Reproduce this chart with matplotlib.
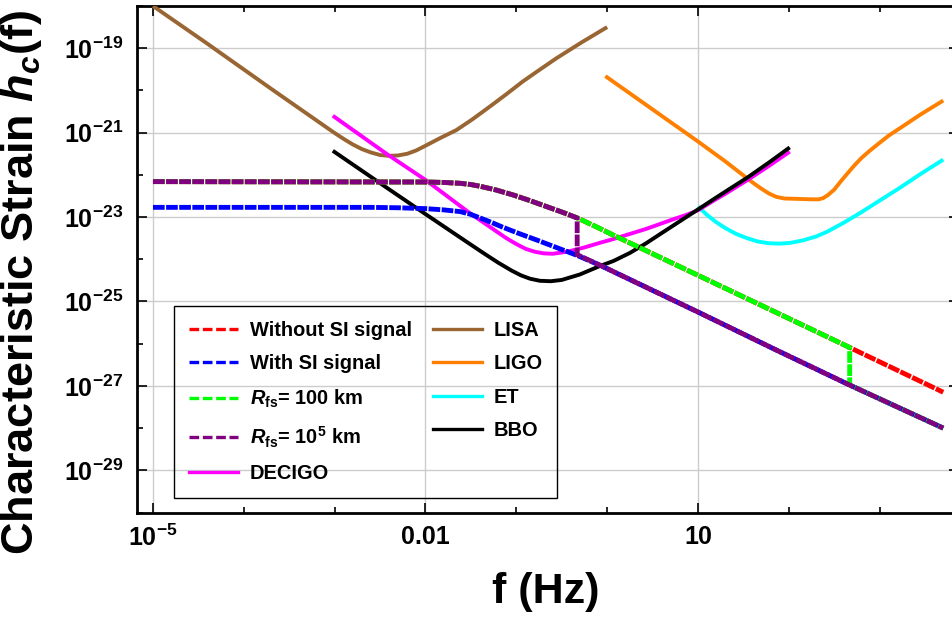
import numpy as np
import matplotlib
matplotlib.use("Agg")
import matplotlib.pyplot as plt
from matplotlib.lines import Line2D

plt.rcParams['font.family'] = ['Liberation Sans', 'DejaVu Sans']
plt.rcParams['font.weight'] = 'bold'
plt.rcParams['mathtext.fontset'] = 'custom'
plt.rcParams['mathtext.rm'] = 'Liberation Sans:bold'
plt.rcParams['mathtext.it'] = 'Liberation Sans:italic:bold'
plt.rcParams['mathtext.bf'] = 'Liberation Sans:bold'
plt.rcParams['mathtext.sf'] = 'Liberation Sans:bold'

# ---------------- data (log10 f [Hz], log10 h_c) ----------------
lisa_logf = [-5.0, -4.41, -3.68, -3.02, -2.90, -2.80, -2.70, -2.60, -2.50, -2.40, -2.30, -2.20, -2.10,
             -2.0, -1.83, -1.66, -1.48, -1.29, -1.11, -0.93, -0.75, -0.56, -0.28, 0.0]
lisa_logh = [-18.0, -18.88, -19.99, -20.98, -21.15, -21.28, -21.39, -21.47, -21.53, -21.55, -21.54, -21.50, -21.42,
             -21.31, -21.12, -20.94, -20.68, -20.38, -20.09, -19.79, -19.52, -19.24, -18.86, -18.50]

ligo_logf = [-0.02, 0.5, 1.0, 1.3, 1.54, 1.62, 1.70, 1.78, 1.86, 1.95, 2.10, 2.25, 2.33, 2.38, 2.43,
             2.50, 2.57, 2.64, 2.72, 2.80, 2.89, 3.0, 3.1, 3.22, 3.45, 3.70]
ligo_logh = [-19.66, -20.45, -21.21, -21.68, -22.08, -22.21, -22.33, -22.44, -22.52, -22.56, -22.57, -22.58, -22.58, -22.55, -22.48,
             -22.35, -22.16, -21.98, -21.78, -21.60, -21.43, -21.24, -21.07, -20.90, -20.57, -20.24]

et_logf = [1.0, 1.1, 1.2, 1.3, 1.42, 1.54, 1.66, 1.78, 1.90, 2.02, 2.16, 2.30, 2.42, 2.60, 2.78, 3.0, 3.22, 3.45, 3.70]
et_logh = [-22.75, -22.95, -23.12, -23.26, -23.40, -23.50, -23.58, -23.62, -23.63, -23.61, -23.55, -23.46, -23.35,
           -23.14, -22.91, -22.61, -22.31, -21.98, -21.64]

decigo_logf = [-3.02, -2.43, -2.0, -1.51, -1.30, -1.11, -1.0, -0.90, -0.80, -0.70, -0.60, -0.50, -0.40, -0.25,
               -0.08, 0.07, 0.25, 0.43, 0.60, 0.73, 0.87, 1.0, 1.15, 1.30, 1.42, 1.54, 1.78, 2.01]
decigo_logh = [-20.60, -21.50, -22.12, -22.91, -23.22, -23.50, -23.64, -23.75, -23.82, -23.86, -23.87, -23.84, -23.80, -23.72,
               -23.61, -23.52, -23.40, -23.28, -23.15, -23.05, -22.95, -22.84, -22.64, -22.45, -22.29, -22.13, -21.79, -21.45]

bbo_logf = [-3.02, -2.43, -2.0, -1.51, -1.35, -1.20, -1.05, -0.95, -0.85, -0.74, -0.62, -0.50, -0.30, -0.08,
            0.07, 0.25, 0.43, 0.60, 0.80, 1.0, 1.17, 1.35, 1.54, 1.78, 2.01]
bbo_logh = [-21.43, -22.30, -22.93, -23.64, -23.87, -24.08, -24.27, -24.38, -24.46, -24.51, -24.52, -24.49, -24.36, -24.16,
            -24.04, -23.85, -23.62, -23.38, -23.10, -22.82, -22.58, -22.33, -22.07, -21.71, -21.35]

nosi_logf = [-5.0, -2.0, -1.80, -1.62, -1.50, -1.40, -1.22, -1.03, -0.85, -0.67, -0.50, -0.33, -0.13, 0.07,
             1.0, 1.90, 2.67, 3.70]
nosi_logh = [-22.16, -22.17, -22.18, -22.20, -22.23, -22.27, -22.36, -22.48, -22.61, -22.75, -22.88, -23.02, -23.22, -23.43,
             -24.38, -25.30, -26.09, -27.15]

si_logf = [-5.0, -2.6, -2.3, -2.0, -1.80, -1.62, -1.51, -1.40, -1.27, -1.15, -0.97, -0.78, -0.56, -0.34, -0.08,
           1.0, 1.90, 2.67, 3.70]
si_logh = [-22.77, -22.77, -22.78, -22.80, -22.83, -22.87, -22.93, -23.02, -23.13, -23.24, -23.39, -23.54, -23.72, -23.90, -24.14,
           -25.25, -26.19, -26.98, -28.0]

r100_logf = nosi_logf[:-1] + [2.67, 3.70]
r100_logh = nosi_logh[:-1] + [-26.98, -28.0]

r1e5_logf = nosi_logf[:12] + [-0.33, -0.08, 1.0, 1.90, 2.67, 3.70]
r1e5_logh = nosi_logh[:12] + [-23.89, -24.14, -25.25, -26.19, -26.98, -28.0]

xtick_vals = [1e-5, 1e-2, 1e1]
xtick_labels = [r'$10^{-5}$', '0.01', '10']
ytick_exps = [-19, -21, -23, -25, -27, -29]

# ---------------- figure ----------------
fig = plt.figure(figsize=(9.52, 6.19), dpi=100)
ax = fig.add_axes([0.1439, 0.172, 0.8634, 0.8183])
ax.set_xscale('log')
ax.set_yscale('log')

def P(lf, lh):
    return np.power(10.0, lf), np.power(10.0, lh)

det_lw = 2.8
for lf, lh, c in [(lisa_logf, lisa_logh, '#996633'),
                  (ligo_logf, ligo_logh, '#FF8000'),
                  (et_logf, et_logh, '#00FFFF'),
                  (decigo_logf, decigo_logh, '#FF00FF'),
                  (bbo_logf, bbo_logh, 'black')]:
    ax.plot(*P(lf, lh), color=c, lw=det_lw, solid_capstyle='butt', solid_joinstyle='round', zorder=3)

sig_lw = 3.5
sig_dash = (2.4, 0.3)
for lf, lh, c in [(nosi_logf, nosi_logh, '#FF0000'),
                  (si_logf, si_logh, '#0000FF'),
                  (r100_logf, r100_logh, '#00FF00'),
                  (r1e5_logf, r1e5_logh, '#800080')]:
    ax.plot(*P(lf, lh), color=c, lw=sig_lw, dashes=sig_dash, dash_capstyle='butt', zorder=4)

ax.set_xlim(10 ** -5.176, 10 ** 3.873)
ax.set_ylim(1e-30, 1e-18)

# ticks
ax.set_xticks(xtick_vals)
ax.set_xticklabels(xtick_labels)
ax.set_xticks([10.0 ** k for k in range(-5, 4)], minor=True)
ax.set_xticklabels([], minor=True)
yt = [10.0 ** e for e in ytick_exps]
ax.set_yticks(yt)
ax.set_yticklabels([r'$10^{%d}$' % e for e in ytick_exps])
ax.set_yticks([10.0 ** k for k in range(-30, -17)], minor=True)
ax.set_yticklabels([], minor=True)

ax.tick_params(which='both', direction='in', top=True, right=True, width=1.2, color='black')
ax.tick_params(which='major', length=7)
ax.tick_params(which='minor', length=4)
ax.tick_params(axis='x', which='major', labelsize=18, pad=9)
ax.tick_params(axis='y', which='major', labelsize=18, pad=10)
for lab in ax.get_xticklabels() + ax.get_yticklabels():
    lab.set_fontweight('bold')

ax.grid(True, which='major', color='#cccccc', lw=1.0, zorder=0)
ax.set_axisbelow(True)
for s in ax.spines.values():
    s.set_linewidth(2.0)
    s.set_color('black')

# labels
fig.text(546 / 952, 1 - 592 / 619, 'f (Hz)', ha='center', va='center', fontsize=31, fontweight='bold')
fig.text(22 / 952, 1 - 282 / 619, r'Characteristic Strain $h_c$(f)', ha='center', va='center',
         rotation=90, fontsize=32.5, fontweight='bold')

# legend
leg_dash = (2.9, 1.1)
handles = [
    Line2D([], [], color='#FF0000', lw=2.4, dashes=leg_dash),
    Line2D([], [], color='#0000FF', lw=2.4, dashes=leg_dash),
    Line2D([], [], color='#00FF00', lw=2.4, dashes=leg_dash),
    Line2D([], [], color='#800080', lw=2.4, dashes=leg_dash),
    Line2D([], [], color='#FF00FF', lw=2.4),
    Line2D([], [], color='#996633', lw=2.4),
    Line2D([], [], color='#FF8000', lw=2.4),
    Line2D([], [], color='#00FFFF', lw=2.4),
    Line2D([], [], color='black', lw=2.4),
]
labels = ['Without SI signal', 'With SI signal', r'$R_{\mathrm{fs}}$= 100 km',
          r'$R_{\mathrm{fs}}$= 10$^{5}$ km', 'DECIGO', 'LISA', 'LIGO', 'ET', 'BBO']
leg = ax.legend(handles, labels, ncol=2, loc='upper left',
                bbox_to_anchor=(0.045, 0.4077), borderaxespad=0,
                prop={'size': 14.4, 'weight': 'bold'},
                handlelength=2.45, handletextpad=0.58, columnspacing=1.05,
                labelspacing=0.72, borderpad=0.75, fancybox=False,
                frameon=True, framealpha=1.0)
leg.get_frame().set_facecolor('none')
leg.get_frame().set_edgecolor('black')
leg.get_frame().set_linewidth(1.0)

fig.savefig('out.png', dpi=100)
